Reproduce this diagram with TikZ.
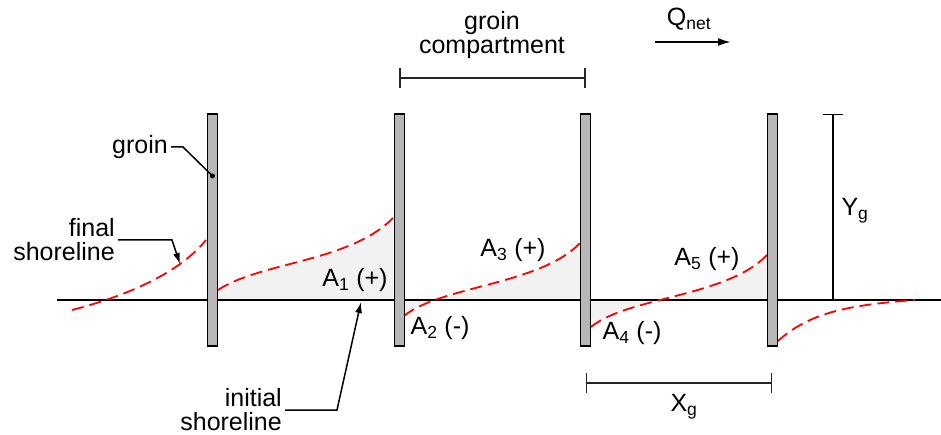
\documentclass[tikz,border=0pt]{standalone}
\usepackage{fontspec}
\setmainfont{Liberation Sans}
\usetikzlibrary{arrows.meta}
\providecommand{\GRfont}{\fontsize{25}{24}\selectfont}
\providecommand{\Ybase}{300}
\providecommand{\Ymid}{230}
\providecommand{\Ytop}{114}
\providecommand{\Ydim}{78}
\providecommand{\Yxg}{383}
\definecolor{groingray}{RGB}{183,183,183}
\definecolor{sandfill}{RGB}{242,242,242}
\tikzset{
  groinbox/.style={rectangle, draw=black, fill=groingray, line width=1.3pt,
                   minimum width=10pt, minimum height=232pt, inner sep=0pt},
  lbl/.style={font=\GRfont, inner sep=3pt, align=center},
  initline/.style={draw=black, line width=2.6pt},
  shore/.style={draw=red, line width=1.8pt, dash pattern=on 12pt off 6pt},
  area/.style={fill=sandfill},
  dimline/.style={draw=black!85, line width=1.5pt,
                  {Bar[width=20pt]}-{Bar[width=20pt]}},
  ydim/.style={draw=black, line width=1.5pt, {Bar[width=20pt]}-},
  leader/.style={draw=black, line width=1.5pt},
  pointer/.style={leader, -{Latex[length=11pt,width=7pt]}},
  flow/.style={draw=black, line width=2pt, -{Latex[length=13pt,width=8pt]}}
}
\begin{document}
\begin{tikzpicture}[x=1pt, y=-1pt]
\useasboundingbox (0,0) rectangle (941,435);

% sand gained / lost in each compartment
\foreach \sx/\sy/\ax/\ay/\bx/\by/\ex/\ey in
  {218/290/260/262/350/262/393/218,
   404/316/440/286/540/285/580/243,
   591/327/627/297/727/297/767/255}{
  \fill[area] (\sx,\sy) .. controls (\ax,\ay) and (\bx,\by) .. (\ex,\ey)
      -- (\ex,\Ybase) -- (\sx,\Ybase) -- cycle;
}

% initial shoreline
\coordinate (bl) at (57,\Ybase);
\coordinate (br) at (941,\Ybase);
\draw[initline] (bl) -- (br);

% final shoreline
\foreach \sx/\sy/\ax/\ay/\bx/\by/\ex/\ey in
  {72/310/130/295/180/272/206/240,
   218/290/260/262/350/262/393/218,
   404/316/440/286/540/285/580/243,
   591/327/627/297/727/297/767/255,
   778/341/810/312/850/305/915/300}{
  \draw[shore] (\sx,\sy) .. controls (\ax,\ay) and (\bx,\by) .. (\ex,\ey);
}

% groins
\foreach \gx [count=\gi] in {212.5,399.2,585.8,772.4}{
  \node (g\gi) [groinbox] at (\gx,\Ymid) {};
}

% dimensions
\draw[dimline] (g2 |- 0,\Ydim) -- (g3 |- 0,\Ydim);
\draw[dimline] (g3 |- 0,\Yxg) -- (g4 |- 0,\Yxg);
\coordinate (ygt) at (833,\Ytop);
\coordinate (ygb) at (833,\Ybase);
\draw[ydim] (ygt) -- (ygb);

\node (comp) [lbl] at (492,35) {groin\\compartment};
\node (xg) [lbl] at (684,407) {X\textsubscript{g}};
\node (yg) [lbl] at (855,211) {Y\textsubscript{g}};

% net transport
\node (qnet) [lbl] at (689,19) {Q\textsubscript{net}};
\coordinate (qa) at (655,42);
\coordinate (qb) at (731,42);
\draw[flow] (qa) -- (qb);

% areas
\node (a1) [lbl] at (355,280) {A\textsubscript{1} (+)};
\node (a2) [lbl] at (440,328) {A\textsubscript{2} (-)};
\node (a3) [lbl] at (513,250) {A\textsubscript{3} (+)};
\node (a4) [lbl] at (632,333) {A\textsubscript{4} (-)};
\node (a5) [lbl] at (707,259) {A\textsubscript{5} (+)};

% callouts
\node (gdot) [circle, fill=black, inner sep=0pt, minimum size=5pt]
    at (212.5,176) {};
\node (groinlbl) [lbl, anchor=east] at (171,147) {groin};
\draw[leader] (groinlbl.east) -- ++(12,0) -- (gdot.center);

\node (finallbl) [lbl, align=right, anchor=east] at (118,240)
    {final\\shoreline};
\coordinate (ftip) at (180,264);
\draw[pointer] (finallbl.east) -- ++(54,0) -- (ftip);

\node (initlbl) [lbl, align=right, anchor=east] at (285,410)
    {initial\\shoreline};
\coordinate (itip) at (361,302);
\draw[pointer] (initlbl.east) -- ++(52,0) -- (itip);

\end{tikzpicture}
\end{document}
